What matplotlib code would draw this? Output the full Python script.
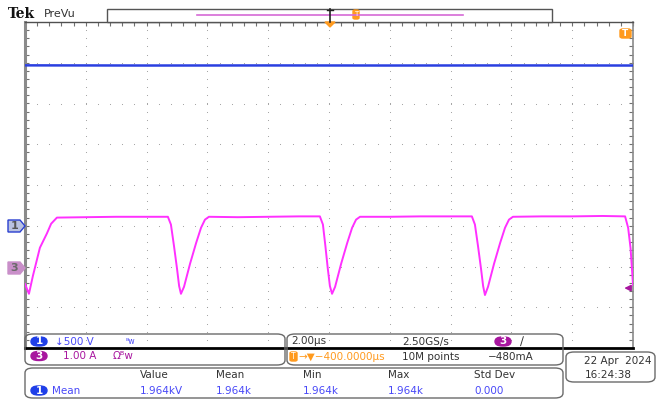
#!/usr/bin/env python3
import numpy as np
import matplotlib
matplotlib.use("Agg")
import matplotlib.pyplot as plt
from matplotlib.patches import FancyBboxPatch, Rectangle, Polygon

# ---- data (time in us, ch1 in kV, ch3 in A) ----
ch1_t = [0.0, 4.0, 8.0, 12.0, 16.0, 20.0]
ch1_kv = [1.968, 1.966, 1.967, 1.966, 1.967, 1.966]

ch3_t = [0.00, 0.13, 0.26, 0.49, 0.72, 0.86, 1.05, 2.0, 3.0, 4.0, 4.70,
         4.80, 4.90, 5.00, 5.07, 5.13, 5.23, 5.43, 5.63, 5.79, 5.92, 6.05,
         7.0, 8.0, 9.0, 9.70,
         9.80, 9.88, 9.96, 10.03, 10.10, 10.20, 10.40, 10.60, 10.76, 10.89, 11.02,
         12.0, 13.0, 14.0, 14.70,
         14.80, 14.90, 15.00, 15.07, 15.13, 15.23, 15.43, 15.63, 15.79, 15.92, 16.05,
         17.0, 18.0, 19.0, 19.74, 19.84, 19.92, 20.0]
ch3_a = [-0.38, -0.62, -0.18, 0.51, 0.86, 1.10, 1.25, 1.26, 1.27, 1.27, 1.27,
         1.08, 0.56, 0.00, -0.43, -0.62, -0.45, 0.12, 0.63, 1.00, 1.20, 1.27,
         1.26, 1.27, 1.28, 1.28,
         1.08, 0.56, 0.00, -0.43, -0.62, -0.45, 0.12, 0.63, 1.00, 1.20, 1.27,
         1.27, 1.28, 1.28, 1.28,
         1.08, 0.56, 0.00, -0.43, -0.65, -0.45, 0.12, 0.63, 1.00, 1.20, 1.27,
         1.28, 1.28, 1.29, 1.28, 1.00, 0.50, -0.40]

time_per_div = 2.0      # us
ch1_scale = 0.5         # kV/div
ch3_scale = 1.0         # A/div
ch1_pos = -1.0          # div
ch3_pos = -2.05         # div
trig_level = -0.48      # A

meas_cols = ["Value", "Mean", "Min", "Max", "Std Dev"]
meas_vals = ["1.964kV", "1.964k", "1.964k", "1.964k", "0.000"]

BLUE = "#2a3fe0"
MAG = "#ff30ff"
TXT_BLUE = "#4848f8"
PURPLE = "#a8169f"
ORANGE = "#ff9a1e"
W, H = 665, 408


def px(x, y):
    return x / W, 1 - y / H


fig = plt.figure(figsize=(W / 100, H / 100), dpi=100)
ax = fig.add_axes([25 / W, (H - 348) / H, 608 / W, 326 / H])
ax.set_xlim(0, 10 * time_per_div)
ax.set_ylim(-4, 4)

# graticule dots
for k in range(1, 10):
    yy = np.arange(-4, 4.01, 0.2)
    ax.scatter(np.full_like(yy, k * time_per_div), yy, s=0.6, c="#9a9a9a", lw=0, zorder=1)
for k in range(-3, 4):
    xx = np.arange(0, 20.01, time_per_div / 5)
    ax.scatter(xx, np.full_like(xx, k), s=0.6, c="#9a9a9a", lw=0, zorder=1)

ax.set_xticks(np.arange(0, 20.01, 0.4))
ax.set_yticks(np.arange(-4, 4.01, 0.2))
ax.tick_params(direction="in", length=3, width=0.8, color="#707070",
               top=True, bottom=False, left=True, right=True,
               labelbottom=False, labelleft=False)
for s, c, w in [("top", "#505050", 1.0), ("left", "#8a8a8a", 2.2),
                ("right", "#8a8a8a", 1.2), ("bottom", "#000000", 2.0)]:
    ax.spines[s].set_color(c)
    ax.spines[s].set_linewidth(w)

# traces
ax.plot(ch1_t, np.array(ch1_kv) / ch1_scale + ch1_pos, color=BLUE, lw=1.8, zorder=3)
ax.plot(ch3_t, np.array(ch3_a) / ch3_scale + ch3_pos, color=MAG, lw=1.4, zorder=4)

# trigger level arrow on right edge
ax.annotate("", xy=(19.62, trig_level + ch3_pos), xytext=(20.0, trig_level + ch3_pos),
            arrowprops=dict(arrowstyle="-|>", color=PURPLE, lw=1.2, mutation_scale=9),
            annotation_clip=False, zorder=5)

# ---- left channel markers ----
def flag(y, fc, ec, label, tc):
    x0, x1 = 8, 25
    pts = [px(x0, y - 6), px(x1 - 5, y - 6), px(x1, y), px(x1 - 5, y + 6), px(x0, y + 6)]
    fig.add_artist(Polygon(pts, closed=True, fc=fc, ec=ec, lw=1.0, transform=fig.transFigure))
    fig.text(*px(14.5, y), label, color=tc, fontsize=8, ha="center", va="center", fontweight="bold")


flag(226, "#b9c2e0", "#2a3fd0", "1", "#555555")
flag(268, "#c98fc9", "#c98fc9", "3", "#6a6a6a")

# trigger position marker top right
fig.add_artist(FancyBboxPatch(px(620, 38), 11 / W, 9 / H, boxstyle="round,pad=0,rounding_size=0.004",
                              fc=ORANGE, ec=ORANGE, transform=fig.transFigure))
fig.text(*px(625.5, 33.5), "T", color="white", fontsize=6.5, ha="center", va="center", fontweight="bold")

# ---- header ----
fig.text(*px(8, 14), "Tek", fontsize=10, fontweight="bold", family="DejaVu Serif",
         ha="left", va="center", color="#111111")
fig.text(*px(44, 14), "PreVu", fontsize=8, ha="left", va="center", color="#333333")
fig.add_artist(Rectangle(px(107, 22), 445 / W, 13 / H, fc="white", ec="#555555", lw=1.0,
                         transform=fig.transFigure))
fig.add_artist(plt.Line2D([197 / W, 463 / W], [1 - 14.5 / H] * 2, color="#d66ad6", lw=1.2))
fig.add_artist(plt.Line2D([330 / W] * 2, [1 - 9 / H, 1 - 22 / H], color="#222222", lw=1.2))
fig.add_artist(plt.Line2D([327 / W, 333 / W], [1 - 9.5 / H] * 2, color="#222222", lw=1.0))
fig.add_artist(Polygon([px(325, 22), px(335, 22), px(330, 27)], closed=True, fc=ORANGE, ec=ORANGE,
                       transform=fig.transFigure))
fig.add_artist(FancyBboxPatch(px(353, 19), 6 / W, 9 / H, boxstyle="round,pad=0,rounding_size=0.003",
                              fc=ORANGE, ec=ORANGE, transform=fig.transFigure))
fig.text(*px(356, 14.5), "T", color="white", fontsize=5, ha="center", va="center")

# ---- info boxes ----
def rbox(x0, y0, x1, y1):
    fig.add_artist(FancyBboxPatch(px(x0, y1), (x1 - x0) / W, (y1 - y0) / H,
                                  boxstyle="round,pad=0,rounding_size=0.012",
                                  fc="none", ec="#6a6a6a", lw=1.0, transform=fig.transFigure))


def badge(xc, y, label, fc):
    fig.add_artist(FancyBboxPatch(px(xc - 8, y + 4.5), 16 / W, 9 / H,
                                  boxstyle="round,pad=0,rounding_size=0.011",
                                  fc=fc, ec=fc, transform=fig.transFigure))
    fig.text(*px(xc, y), label, color="white", fontsize=7.5, ha="center", va="center", fontweight="bold")


fs = 7.5
rbox(25, 334, 285, 365)
rbox(287, 334, 563, 365)
rbox(25, 368, 563, 398)
rbox(566, 352, 655, 382)

badge(39, 341.5, "1", "#1f3fe8")
fig.text(*px(55, 341.5), "↓500 V", color=TXT_BLUE, fontsize=fs, ha="left", va="center")
fig.text(*px(125, 341.5), "ᴮw", color=TXT_BLUE, fontsize=5.5, ha="left", va="center")
badge(39, 356, "3", PURPLE)
fig.text(*px(63, 356), "1.00 A", color=PURPLE, fontsize=fs, ha="left", va="center")
fig.text(*px(113, 356), "Ωᴮw", color=PURPLE, fontsize=fs, ha="left", va="center")

fig.text(*px(291, 341.5), "2.00µs", color="#333333", fontsize=fs, ha="left", va="center")
fig.text(*px(402, 341.5), "2.50GS/s", color="#333333", fontsize=fs, ha="left", va="center")
badge(503, 341.5, "3", PURPLE)
fig.text(*px(520, 341.5), "∕", color="#333333", fontsize=fs + 1, ha="left", va="center")
fig.add_artist(FancyBboxPatch(px(290, 361), 7 / W, 9 / H, boxstyle="round,pad=0,rounding_size=0.003",
                              fc=ORANGE, ec=ORANGE, transform=fig.transFigure))
fig.text(*px(293.5, 356.5), "T", color="white", fontsize=5.5, ha="center", va="center")
fig.text(*px(298, 356.5), "→▼−400.0000µs", color=ORANGE, fontsize=fs, ha="left", va="center")
fig.text(*px(402, 356.5), "10M points", color="#333333", fontsize=fs, ha="left", va="center")
fig.text(*px(488, 356.5), "−480mA", color="#333333", fontsize=fs, ha="left", va="center")

col_x = [140, 216, 303, 388, 474]
for x, c, v in zip(col_x, meas_cols, meas_vals):
    fig.text(*px(x, 375.5), c, color="#333333", fontsize=fs, ha="left", va="center")
    fig.text(*px(x, 390.5), v, color=TXT_BLUE, fontsize=fs, ha="left", va="center")
badge(39, 390.5, "1", "#1f3fe8")
fig.text(*px(52, 390.5), "Mean", color=TXT_BLUE, fontsize=fs, ha="left", va="center")

fig.text(*px(651, 361.5), "22 Apr  2024", color="#333333", fontsize=fs, ha="right", va="center")
fig.text(*px(585, 375.5), "16:24:38", color="#333333", fontsize=fs, ha="left", va="center")

fig.savefig("out.png", dpi=100)
